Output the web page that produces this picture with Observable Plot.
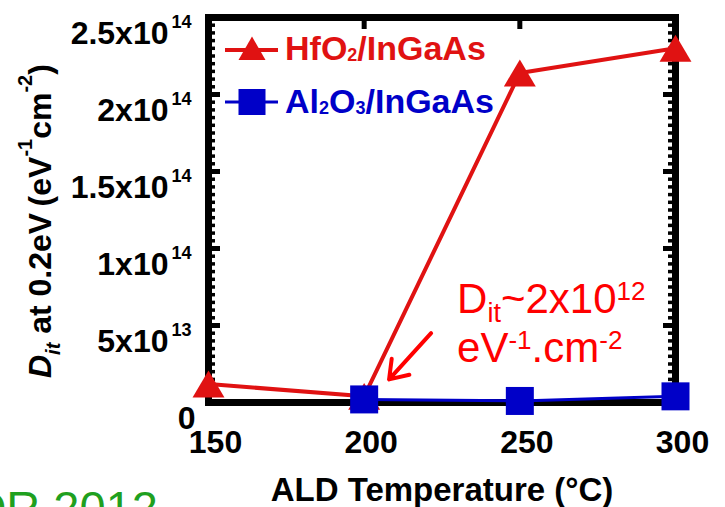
<!DOCTYPE html>
<html><head><meta charset="utf-8">
<script src="https://cdn.jsdelivr.net/npm/d3@7"></script>
<script src="https://cdn.jsdelivr.net/npm/@observablehq/plot@0.6"></script>
<style>body{margin:0;background:#fff}#chart{position:relative;width:725px;height:507px;overflow:hidden}svg{overflow:hidden}</style>
</head><body><div id="chart"></div>
<script>
// ---- data ----
const temps = [150, 200, 250, 300];
const hfo2 = [1.2e13, 4e12, 2.14e14, 2.30e14];
const al2o3 = [null, 2e12, 1e12, 4e12];
const xTicks = [150, 200, 250, 300];
const xInnerTicks = [200, 250];
const yTicks = [0, 5e13, 1e14, 1.5e14, 2e14, 2.5e14];
const yTickMantissa = ["0", "5x10", "1x10", "1.5x10", "2x10", "2.5x10"];
const yTickExponent = ["", "13", "14", "14", "14", "14"];
const xLabel = "ALD Temperature (°C)";
const arrowData = [{x1: 221.5, y1: 4.5e13, x2: 208, y2: 1.5e13}];
const noteAnchor = [{x: 230, y: 5.8e13}, {x: 230, y: 2.6e13}];
const sourceText = "DR 2012";

const red = "#e01212", blue = "#0000c8", noteRed = "#ff0000", green = "#1fa01f";
const W = 725, H = 507, mL = 208, mR = 50, mT = 17, mB = 105;
const innerW = W - mL - mR, innerH = H - mT - mB;
const FONT = "'Liberation Sans', Arial, sans-serif";

const rows = temps.map((t, i) => ({t, hf: hfo2[i], al: al2o3[i]}));
const tri = {draw(ctx, size) {const r = Math.sqrt(size / Math.PI); const hw = 1.33 * r, hh = 1.12 * r; ctx.moveTo(0, -hh); ctx.lineTo(hw, hh); ctx.lineTo(-hw, hh); ctx.closePath();}};
const minorY = d3.range(0, 2.5e14 + 1, 5e12).filter(v => !yTicks.some(m => Math.abs(m - v) < 1e6));
const yLab = yTicks.map((v, i) => ({v, m: yTickMantissa[i], e: yTickExponent[i]}));

const plot = Plot.plot({
  width: W, height: H, marginLeft: mL, marginRight: mR, marginTop: mT, marginBottom: mB,
  x: {domain: [150, 300]},
  y: {domain: [0, 2.5e14], axis: null},
  style: {fontFamily: FONT, background: "white", color: "black"},
  marks: [
    Plot.tickY(minorY, {y: d => d, stroke: "black", strokeWidth: 3.5, insetRight: innerW - 7}),
    Plot.tickY(minorY, {y: d => d, stroke: "black", strokeWidth: 3.5, insetLeft: innerW - 7}),
    Plot.tickY(yTicks, {y: d => d, stroke: "black", strokeWidth: 5, insetRight: innerW - 12}),
    Plot.tickY(yTicks, {y: d => d, stroke: "black", strokeWidth: 5, insetLeft: innerW - 12}),
    Plot.tickX(xInnerTicks, {x: d => d, stroke: "black", strokeWidth: 5, insetBottom: innerH - 12}),
    Plot.tickX(xInnerTicks, {x: d => d, stroke: "black", strokeWidth: 5, insetTop: innerH - 12}),
    Plot.frame({stroke: "black", strokeWidth: 7}),
    Plot.line(rows, {x: "t", y: "hf", stroke: red, strokeWidth: 4}),
    Plot.dot(rows, {x: "t", y: "hf", symbol: tri, r: 12, fill: red, stroke: "none"}),
    Plot.line(rows.filter(d => d.al != null), {x: "t", y: "al", stroke: blue, strokeWidth: 3}),
    Plot.dot(rows.filter(d => d.al != null), {x: "t", y: "al", symbol: "square", r: 15.8, fill: blue, stroke: "none"}),
    Plot.arrow(arrowData, {x1: "x1", y1: "y1", x2: "x2", y2: "y2", stroke: noteRed, strokeWidth: 4, headLength: 20, headAngle: 70}),
    Plot.axisX({ticks: xTicks, tickSize: 0, tickPadding: 28, fontSize: 32, fontWeight: "bold", dx: 7, label: null, tickFormat: d => String(d)}),
    Plot.text(yLab.filter(d => d.e), {y: "v", text: "m", frameAnchor: "left", textAnchor: "end", lineAnchor: "bottom", dx: -40, dy: 26, fontSize: 32, fontWeight: "bold"}),
    Plot.text(yLab.filter(d => !d.e), {y: "v", text: "m", frameAnchor: "left", textAnchor: "end", lineAnchor: "bottom", dx: -13, dy: 26, fontSize: 32, fontWeight: "bold"}),
    Plot.text(yLab.filter(d => d.e), {y: "v", text: "e", frameAnchor: "left", textAnchor: "start", lineAnchor: "bottom", dx: -37, dy: 10, fontSize: 18, fontWeight: "bold"}),
    Plot.text([xLabel], {text: d => d, frameAnchor: "bottom", lineAnchor: "bottom", dy: 98, fontSize: 33, fontWeight: "bold"})
  ]
});
document.getElementById("chart").appendChild(plot);

const svg = d3.select(plot);
const xs = plot.scale("x"), ys = plot.scale("y");

function rich(parent, x, y, parts, attrs) {
  const t = parent.append("text").attr("x", x).attr("y", y).attr("font-family", FONT).attr("text-anchor", "start");
  for (const [k, v] of Object.entries(attrs)) t.attr(k, v);
  for (const p of parts) {
    const s = t.append("tspan").text(p.t);
    if (p.size) s.attr("font-size", p.size);
    if (p.dy) s.attr("dy", p.dy);
    if (p.italic) s.attr("font-style", "italic");
  }
  return t;
}

// legend
const lg = svg.append("g");
lg.append("line").attr("x1", 225).attr("x2", 278).attr("y1", 50).attr("y2", 50).attr("stroke", red).attr("stroke-width", 4);
lg.append("path").attr("d", "M252,36.5L265.5,60L238.5,60Z").attr("fill", red);
rich(lg, 285, 60, [{t: "HfO"}, {t: "2", size: 18, dy: 1}, {t: "/InGaAs", dy: -1}], {"font-size": 34, "font-weight": "bold", fill: red});
lg.append("line").attr("x1", 225).attr("x2", 278).attr("y1", 102).attr("y2", 102).attr("stroke", blue).attr("stroke-width", 3);
lg.append("rect").attr("x", 238.5).attr("y", 89).attr("width", 27).attr("height", 26).attr("fill", blue);
rich(lg, 285, 113, [{t: "Al"}, {t: "2", size: 18, dy: 1}, {t: "O", dy: -1}, {t: "3", size: 18, dy: 1}, {t: "/InGaAs", dy: -1}], {"font-size": 34, "font-weight": "bold", fill: blue});

// annotation
rich(svg, xs.apply(noteAnchor[0].x), ys.apply(noteAnchor[0].y),
  [{t: "D"}, {t: "it", size: 27, dy: 9}, {t: "~2x10", dy: -9}, {t: "12", size: 26, dy: -13}],
  {"font-size": 42, fill: noteRed});
rich(svg, xs.apply(noteAnchor[1].x), ys.apply(noteAnchor[1].y),
  [{t: "eV"}, {t: "-1", size: 26, dy: -13}, {t: ".cm", dy: 13}, {t: "-2", size: 26, dy: -13}],
  {"font-size": 42, fill: noteRed});

// y axis label
const yl = svg.append("g").attr("transform", "translate(51,378) rotate(-90)");
rich(yl, 0, 0, [
  {t: "D", italic: true}, {t: "it", size: 20, dy: 9, italic: true}, {t: " at 0.2eV\u2009(eV", dy: -9},
  {t: "-1", size: 20, dy: -19}, {t: "cm", dy: 19}, {t: "-2", size: 20, dy: -19}, {t: ")", dy: 19}
], {"font-size": 32, "font-weight": "bold", fill: "black"});

// partially visible source text
svg.append("text").attr("x", -27.6).attr("y", 524).attr("font-family", FONT).attr("text-anchor", "start").attr("font-size", 47).attr("fill", green).text(sourceText);
</script>
</body></html>
